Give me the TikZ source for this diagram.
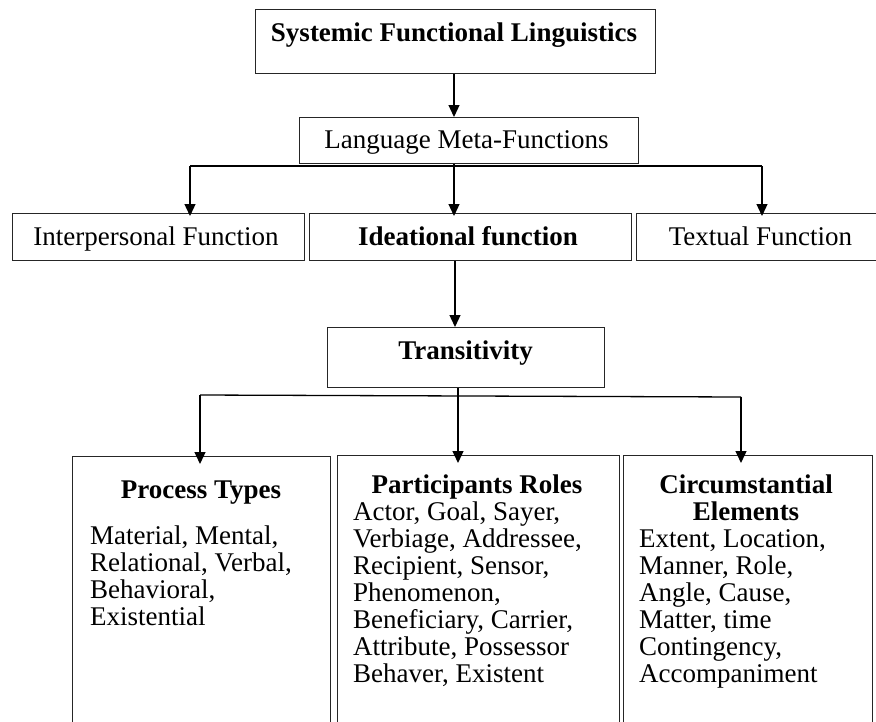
\documentclass[tikz,border=0pt]{standalone}
\usepackage{fontspec}
\setmainfont{Liberation Serif}
\usetikzlibrary{arrows.meta}
\begin{document}
\begin{tikzpicture}[x=1pt,y=-1pt,
  box/.style={draw=black!85, line width=1.3pt, anchor=north west, inner sep=0pt},
  txt/.style={font=\fontsize{27}{27}\selectfont, inner sep=0pt, anchor=base},
  btxt/.style={txt, font=\fontsize{27}{27}\selectfont\bfseries},
  ltxt/.style={txt, anchor=base west},
  arr/.style={line width=1.3pt, -{Triangle[length=12pt,width=11pt]}},
  ln/.style={line width=1.3pt}]
\useasboundingbox (0,0) rectangle (876,721);

% boxes
\node[box, minimum width=400pt, minimum height=64pt] (sfl) at (255,9) {};
\node[box, minimum width=339pt, minimum height=46pt] (lmf) at (299,117) {};
\node[box, minimum width=292pt, minimum height=47pt] (inter) at (12,213) {};
\node[box, minimum width=322pt, minimum height=47pt] (idea) at (309,213) {};
\node[box, minimum width=245pt, minimum height=47pt] (textual) at (636,213) {};
\node[box, minimum width=277pt, minimum height=60pt] (trans) at (327,327) {};
\node[box, minimum width=258pt, minimum height=275pt] (proc) at (72,456) {};
\node[box, minimum width=282pt, minimum height=275pt] (part) at (337,455) {};
\node[box, minimum width=249pt, minimum height=275pt] (circ) at (623,455) {};

% texts
\node[btxt] (tsfl) at (454,41) {Systemic Functional Linguistics};
\node[txt] (tlmf) at (466.5,148) {Language Meta-Functions};
\node[txt] (tinter) at (156,245) {Interpersonal Function};
\node[btxt] (tidea) at (468,245) {Ideational function};
\node[txt] (ttext) at (760.5,245) {Textual Function};
\node[btxt] (ttrans) at (465.5,359) {Transitivity};

\node[btxt] (tproc) at (201,498) {Process Types};
\foreach \t [count=\i from 0] in {{Material, Mental,},{Relational, Verbal,},{Behavioral,},{Existential}}
  \node[ltxt] (p\i) at (90,544+27*\i) {\t};

\node[btxt] (tpart) at (477,493) {Participants Roles};
\foreach \t [count=\i from 0] in {{Actor, Goal, Sayer,},{Verbiage, Addressee,},{Recipient, Sensor,},{Phenomenon,},{Beneficiary, Carrier,},{Attribute, Possessor},{Behaver, Existent}}
  \node[ltxt] (r\i) at (353,520+27*\i) {\t};

\node[btxt] (tcirc1) at (746,493) {Circumstantial};
\node[btxt] (tcirc2) at (746,520) {Elements};
\foreach \t [count=\i from 0] in {{Extent, Location,},{Manner, Role,},{Angle, Cause,},{Matter, time},{Contingency,},{Accompaniment}}
  \node[ltxt] (c\i) at (639,547+27*\i) {\t};

% connectors
\coordinate (h1) at (454,166);
\coordinate (hl) at (190,166);
\coordinate (hr) at (762,166);
\draw[arr] (sfl.south -| h1) -- (lmf.north -| h1);
\draw[ln] (lmf.south -| h1) -- (h1);
\draw[ln] (hl) -- (hr);
\draw[arr] (hl) -- ([yshift=-3pt]hl |- inter.north);
\draw[arr] (h1) -- ([yshift=-3pt]h1 |- idea.north);
\draw[arr] (hr) -- ([yshift=-3pt]hr |- textual.north);

\coordinate (v1) at (455,300);
\draw[arr] (idea.south -| v1) -- (trans.north -| v1);

\coordinate (m1) at (458,396);
\coordinate (ml) at (200,395);
\coordinate (mr) at (741,397);
\draw[ln] (trans.south -| m1) -- (m1);
\draw[ln] (ml) -- (mr);
\draw[arr] (ml) -- ([yshift=-8pt]ml |- proc.north);
\draw[arr] (m1) -- ([yshift=-8pt]m1 |- part.north);
\draw[arr] (mr) -- ([yshift=-8pt]mr |- circ.north);
\end{tikzpicture}
\end{document}
